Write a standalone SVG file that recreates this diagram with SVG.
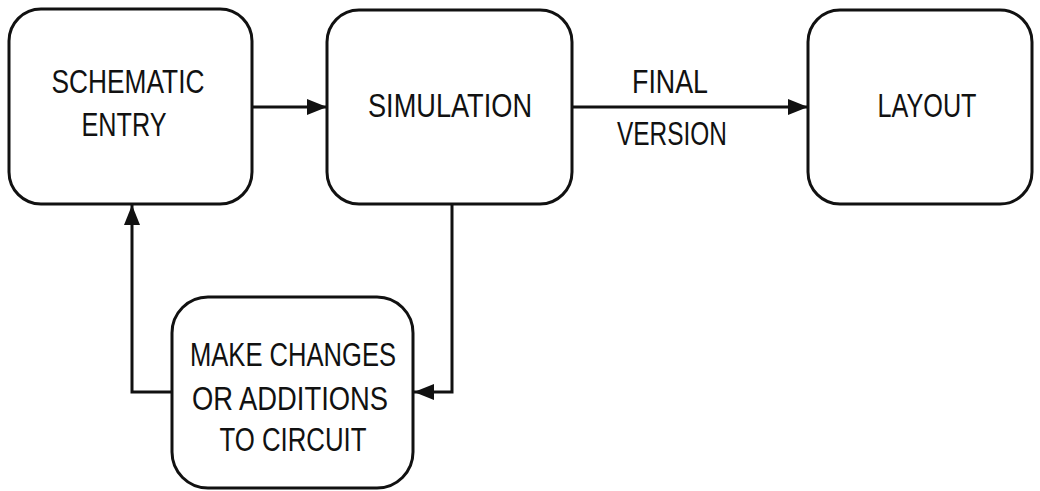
<svg xmlns="http://www.w3.org/2000/svg" width="1040" height="491" viewBox="0 0 1040 491">
<style>
.box{fill:#fff;stroke:#111;stroke-width:3}
.lbl{font-family:"Liberation Sans",Arial,sans-serif;font-size:33px;fill:#111;text-anchor:middle}
.ln{fill:none;stroke:#111;stroke-width:3}
</style>
<defs>
<marker id="ah" viewBox="0 0 20 16" refX="20" refY="8" markerWidth="20" markerHeight="16" markerUnits="userSpaceOnUse" orient="auto">
<path d="M0,0 L20,8 L0,16 Z" fill="#111"/>
</marker>
</defs>
<rect width="1040" height="491" fill="#fff"/>
<g id="connectors">
<line class="ln" x1="252" y1="107" x2="327" y2="107" marker-end="url(#ah)"/>
<line class="ln" x1="572" y1="107" x2="808" y2="107" marker-end="url(#ah)"/>
<polyline class="ln" points="452,204 452,392 414,392" marker-end="url(#ah)"/>
<polyline class="ln" points="172,392 132,392 132,205" marker-end="url(#ah)"/>
<text class="lbl" x="670" y="93" textLength="76" lengthAdjust="spacingAndGlyphs">FINAL</text>
<text class="lbl" x="672" y="145" textLength="110" lengthAdjust="spacingAndGlyphs">VERSION</text>
</g>
<g id="schematic">
<rect class="box" x="9" y="9" width="243" height="195" rx="32"/>
<text class="lbl" x="128" y="93" textLength="153" lengthAdjust="spacingAndGlyphs">SCHEMATIC</text>
<text class="lbl" x="124" y="136" textLength="85" lengthAdjust="spacingAndGlyphs">ENTRY</text>
</g>
<g id="simulation">
<rect class="box" x="327" y="10" width="245" height="194" rx="32"/>
<text class="lbl" x="450" y="117" textLength="164" lengthAdjust="spacingAndGlyphs">SIMULATION</text>
</g>
<g id="layout">
<rect class="box" x="808" y="10" width="224" height="194" rx="32"/>
<text class="lbl" x="927" y="117" textLength="99" lengthAdjust="spacingAndGlyphs">LAYOUT</text>
</g>
<g id="changes">
<rect class="box" x="172" y="297" width="241" height="191" rx="36"/>
<text class="lbl" x="293" y="366" textLength="206" lengthAdjust="spacingAndGlyphs">MAKE CHANGES</text>
<text class="lbl" x="290" y="410" textLength="196" lengthAdjust="spacingAndGlyphs">OR ADDITIONS</text>
<text class="lbl" x="293" y="451" textLength="147" lengthAdjust="spacingAndGlyphs">TO CIRCUIT</text>
</g>
</svg>
